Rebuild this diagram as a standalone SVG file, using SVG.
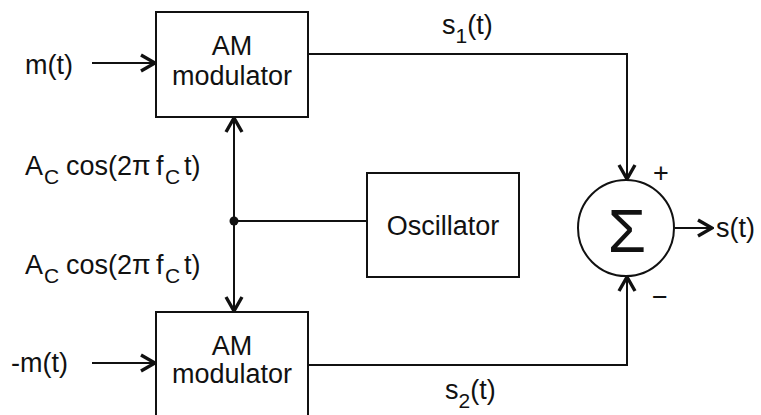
<svg xmlns="http://www.w3.org/2000/svg" width="761" height="415" viewBox="0 0 761 415">
<style>
  text { font-family: "Liberation Sans", Arial, sans-serif; font-size: 27px; fill: #111; }
  .box { fill: #fff; stroke: #111; stroke-width: 2; }
  .wire { fill: none; stroke: #111; stroke-width: 2; }
  .sub { font-size: 21px; }
</style>
<defs>
  <marker id="arr" markerUnits="userSpaceOnUse" viewBox="-16 -10 18 20" refX="0" refY="0" markerWidth="18" markerHeight="20" orient="auto">
    <path d="M-14,-8 L0,0 L-14,8" fill="none" stroke="#111" stroke-width="3.4"/>
  </marker>
</defs>
<rect width="761" height="415" fill="#fff"/>

<g id="connectors">
  <line class="wire" x1="92" y1="63" x2="155" y2="63" marker-end="url(#arr)"/>
  <line class="wire" x1="92" y1="363" x2="155" y2="363" marker-end="url(#arr)"/>
  <line class="wire" x1="234" y1="221" x2="234" y2="118" marker-end="url(#arr)"/>
  <line class="wire" x1="234" y1="221" x2="234" y2="311" marker-end="url(#arr)"/>
  <line class="wire" x1="234" y1="221" x2="367" y2="221"/>
  <circle cx="234" cy="221" r="4.5" fill="#111"/>
  <polyline class="wire" points="308,54 627,54 627,179" marker-end="url(#arr)"/>
  <polyline class="wire" points="308,365 627,365 627,277" marker-end="url(#arr)"/>
  <line class="wire" x1="675" y1="228" x2="712" y2="228" marker-end="url(#arr)"/>
</g>

<g id="am1">
  <rect class="box" x="156" y="12" width="152" height="105"/>
  <text x="232" y="55" text-anchor="middle">AM</text>
  <text x="232" y="85" text-anchor="middle">modulator</text>
</g>

<g id="am2">
  <rect class="box" x="156" y="312" width="152" height="106"/>
  <text x="232" y="355" text-anchor="middle">AM</text>
  <text x="232" y="383" text-anchor="middle">modulator</text>
</g>

<g id="oscillator">
  <rect class="box" x="367" y="173" width="152" height="104"/>
  <text x="443" y="235" text-anchor="middle">Oscillator</text>
</g>

<g id="summer">
  <circle cx="626" cy="228" r="48" fill="#fff" stroke="#111" stroke-width="2"/>
  <text x="627" y="252" text-anchor="middle" style="font-size:62px">Σ</text>
</g>

<g id="labels">
  <text x="25" y="74">m(t)</text>
  <text x="11" y="372">-m(t)</text>
  <text x="25" y="175">A<tspan class="sub" x="44" dy="9">C</tspan><tspan dy="-9" x="66">cos(2π</tspan><tspan x="156">f</tspan><tspan class="sub" x="165" dy="9">C</tspan><tspan x="184" dy="-9">t)</tspan></text>
  <text x="25" y="274">A<tspan class="sub" x="44" dy="9">C</tspan><tspan dy="-9" x="66">cos(2π</tspan><tspan x="156">f</tspan><tspan class="sub" x="165" dy="9">C</tspan><tspan x="184" dy="-9">t)</tspan></text>
  <text x="442" y="34">s<tspan class="sub" dy="9">1</tspan><tspan dy="-9">(t)</tspan></text>
  <text x="445" y="399">s<tspan class="sub" dy="9">2</tspan><tspan dy="-9">(t)</tspan></text>
  <text x="716" y="237">s(t)</text>
  <text x="653" y="182">+</text>
  <text x="652" y="306">−</text>
</g>
</svg>
